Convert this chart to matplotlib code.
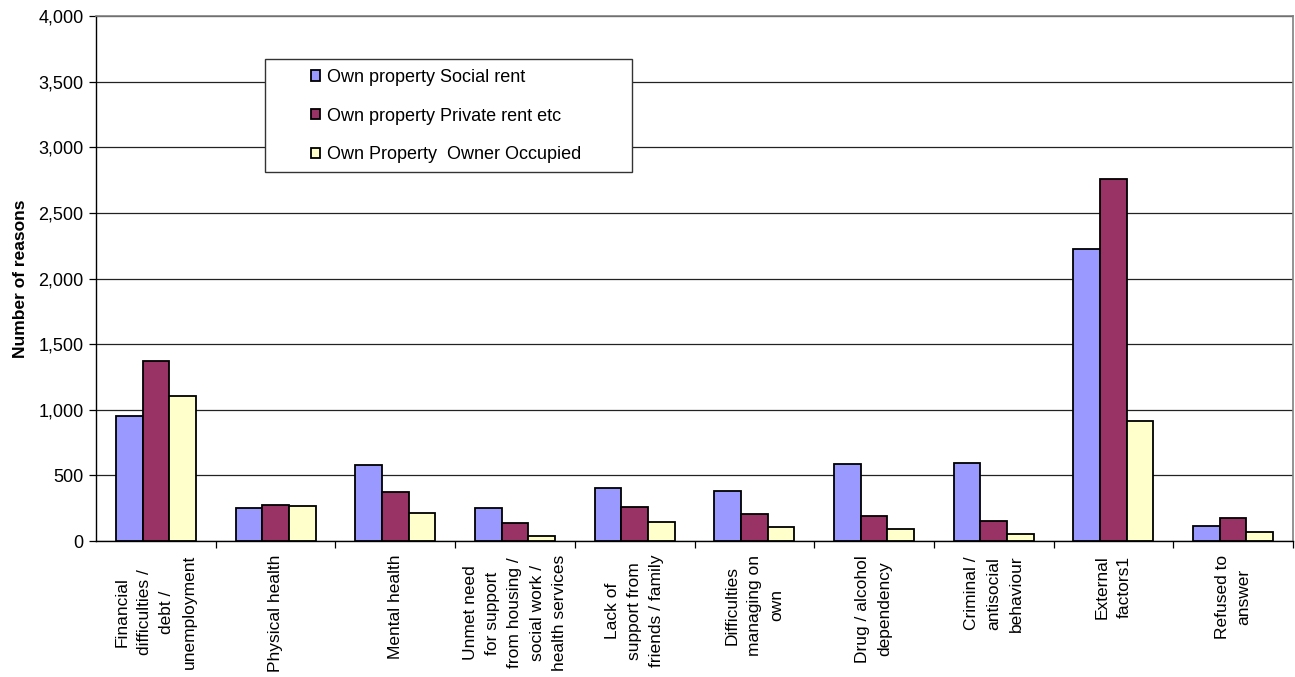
import matplotlib
matplotlib.use("Agg")
import matplotlib.pyplot as plt
from matplotlib.patches import Rectangle
from matplotlib.ticker import FuncFormatter, MultipleLocator
import numpy as np

categories = [
    "Financial\ndifficulties /\ndebt /\nunemployment",
    "Physical health",
    "Mental health",
    "Unmet need\nfor support\nfrom housing /\nsocial work /\nhealth services",
    "Lack of\nsupport from\nfriends / family",
    "Difficulties\nmanaging on\nown",
    "Drug / alcohol\ndependency",
    "Criminal /\nantisocial\nbehaviour",
    "External\nfactors1",
    "Refused to\nanswer",
]
social_rent = [950, 250, 577, 250, 401, 380, 585, 595, 2222, 114]
private_rent = [1368, 277, 372, 140, 259, 203, 190, 150, 2757, 175]
owner_occupied = [1102, 268, 216, 38, 145, 104, 91, 53, 912, 71]
series_names = ["Own property Social rent", "Own property Private rent etc",
                "Own Property  Owner Occupied"]
colors = ["#9999FF", "#993366", "#FFFFCC"]

plt.rcParams['font.family'] = ['Liberation Sans', 'DejaVu Sans']

fig = plt.figure(figsize=(12.95, 6.77), dpi=100)
ax = fig.add_axes([96/1295, 1-541/677, (1293-96)/1295, (541-16)/677])

x = np.arange(len(categories))
w = 0.223
for i, (vals, c) in enumerate(zip([social_rent, private_rent, owner_occupied], colors)):
    ax.bar(x + (i-1)*w, vals, width=w, color=c, edgecolor='black', linewidth=1.3,
           label=series_names[i], zorder=3)

ax.set_xlim(-0.5, len(categories)-0.5)
ax.set_ylim(0, 4000)
ax.yaxis.set_major_locator(MultipleLocator(500))
ax.yaxis.set_major_formatter(FuncFormatter(lambda v, p: f"{int(v):,}"))
ax.grid(axis='y', color='#222222', linewidth=0.9, zorder=0)
ax.set_axisbelow(True)

ax.set_xticks(x)
ax.set_xticklabels(categories, rotation=90, ha='center', va='top',
                   multialignment='center', fontsize=12.5, linespacing=1.6)
ax.tick_params(axis='x', which='major', length=0, pad=10)
ax.set_xticks(np.arange(len(categories)) + 0.5, minor=True)
ax.tick_params(axis='x', which='minor', length=5, width=0.9, direction='out')
ax.tick_params(axis='y', length=5, width=0.9, labelsize=13, pad=4)

for s in ['left', 'bottom']:
    ax.spines[s].set_color('black')
    ax.spines[s].set_linewidth(1.0)
for s in ['top', 'right']:
    ax.spines[s].set_color('#808080')
    ax.spines[s].set_linewidth(1.2)

ax.set_ylabel("Number of reasons", fontsize=12.5, fontweight='bold')
ax.yaxis.set_label_coords((28-96)/1197, 0.5)

# legend frame
x0 = (265-96)/1197; x1 = (632-96)/1197
y0 = (541-172)/525; y1 = (541-59)/525
ax.add_patch(Rectangle((x0, y0), x1-x0, y1-y0, transform=ax.transAxes,
                       facecolor='white', edgecolor='#333333', linewidth=1.0, zorder=5))
leg = ax.legend(loc='upper left', bbox_to_anchor=((311-96)/1197, (541-69)/525),
                frameon=False, fontsize=13, handlelength=0.5, handleheight=0.5,
                handletextpad=0.4, labelspacing=1.2, borderaxespad=0, borderpad=0)
leg.set_zorder(6)

fig.savefig("out.png", dpi=100)
